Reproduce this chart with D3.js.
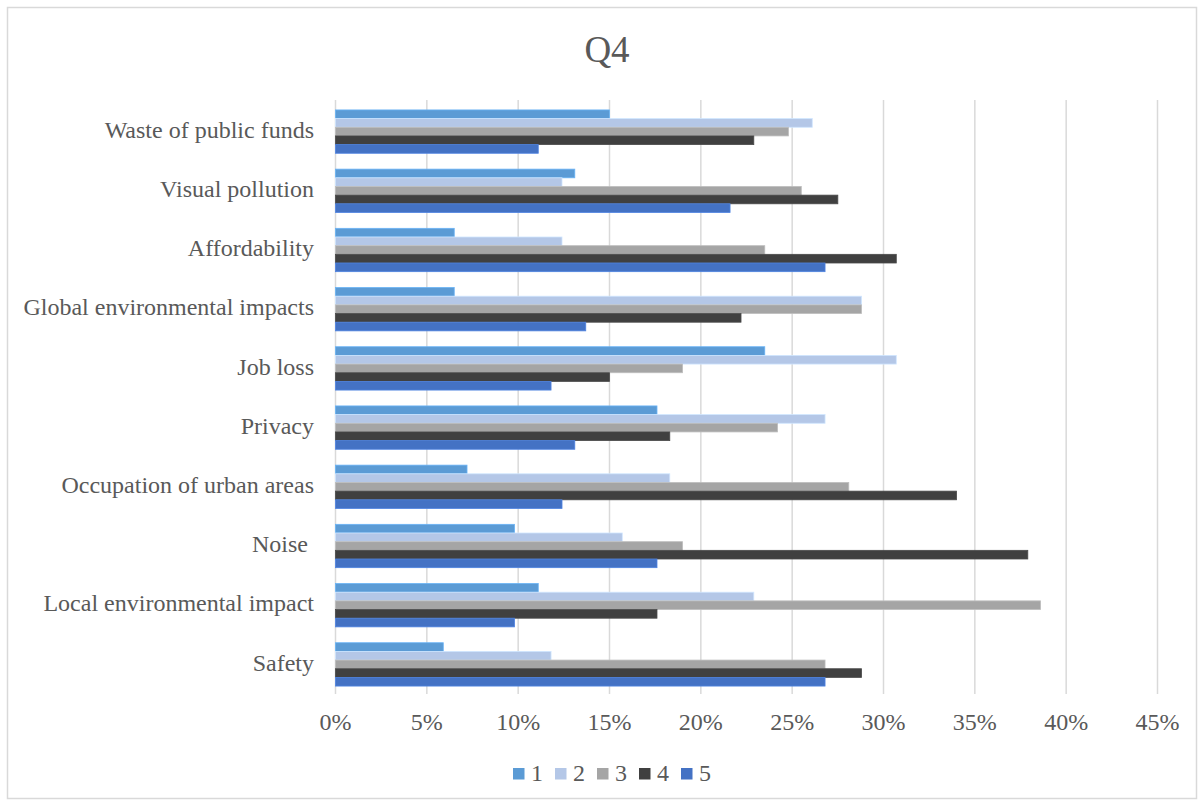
<!DOCTYPE html>
<html lang="en">
<head>
    <meta charset="UTF-8">
    <title>Q4</title>
    <style>
        body {
            margin: 0;
            background: #fff;
            font-family: "Liberation Serif", "Times New Roman", serif;
        }
        svg {
            display: block;
        }
        text {
            fill: #595959;
            white-space: pre;
        }
    </style>
</head>
<body>
    <svg id="chart" width="1204" height="806"></svg>

    <script src="https://cdn.jsdelivr.net/npm/d3@7"></script>
    <script>
        // categories, top to bottom
        const categories = [
            "Waste of public funds",
            "Visual pollution",
            "Affordability",
            "Global environmental impacts",
            "Job loss",
            "Privacy",
            "Occupation of urban areas",
            "Noise ",
            "Local environmental impact",
            "Safety"
        ];

        const seriesNames = ["1", "2", "3", "4", "5"];

        // share of answers (%) per category, one array per series
        const s1 = [15.0, 13.1,  6.5,  6.5, 23.5, 17.6,  7.2,  9.8, 11.1,  5.9];
        const s2 = [26.1, 12.4, 12.4, 28.8, 30.7, 26.8, 18.3, 15.7, 22.9, 11.8];
        const s3 = [24.8, 25.5, 23.5, 28.8, 19.0, 24.2, 28.1, 19.0, 38.6, 26.8];
        const s4 = [22.9, 27.5, 30.7, 22.2, 15.0, 18.3, 34.0, 37.9, 17.6, 28.8];
        const s5 = [11.1, 21.6, 26.8, 13.7, 11.8, 13.1, 12.4, 17.6,  9.8, 26.8];

        const xTicks = [0, 5, 10, 15, 20, 25, 30, 35, 40, 45];

        const colors = ["#5B9BD5", "#B4C7E7", "#A5A5A5", "#404040", "#4472C4"];

        const series = [s1, s2, s3, s4, s5];

        const svg = d3.select("#chart");

        // outer chart frame
        svg.append("rect")
            .attr("x", 7.5).attr("y", 7.5)
            .attr("width", 1189).attr("height", 791)
            .attr("fill", "#fff")
            .attr("stroke", "#D9D9D9")
            .attr("stroke-width", 1.5);

        const plot = { left: 335.5, right: 1157.5, top: 102, bottom: 694 };

        const x = d3.scaleLinear()
            .domain([0, 45])
            .range([plot.left, plot.right]);

        const y0 = d3.scaleBand()
            .domain(categories)
            .range([plot.top, plot.bottom])
            .paddingInner(0.268)
            .paddingOuter(0.134);

        const y1 = d3.scaleBand()
            .domain(seriesNames)
            .range([0, y0.bandwidth()]);

        // title
        svg.append("text")
            .attr("x", 607)
            .attr("y", 62)
            .attr("text-anchor", "middle")
            .style("font-size", "37px")
            .text("Q4");

        // vertical gridlines
        svg.append("g")
            .selectAll("line")
            .data(xTicks)
            .join("line")
            .attr("x1", d => x(d)).attr("x2", d => x(d))
            .attr("y1", plot.top - 2).attr("y2", plot.bottom)
            .attr("stroke", "#D9D9D9")
            .attr("stroke-width", 1.5);

        // x tick labels
        svg.append("g")
            .selectAll("text")
            .data(xTicks)
            .join("text")
            .attr("x", d => x(d))
            .attr("y", 730)
            .attr("text-anchor", "middle")
            .style("font-size", "24px")
            .text(d => d + "%");

        // category labels
        svg.append("g")
            .selectAll("text")
            .data(categories)
            .join("text")
            .attr("x", 314)
            .attr("y", d => y0(d) + y0.bandwidth() / 2)
            .attr("dy", "0.26em")
            .attr("text-anchor", "end")
            .style("font-size", "24px")
            .text(d => d);

        // bars
        const groups = svg.append("g")
            .selectAll("g")
            .data(categories)
            .join("g")
            .attr("transform", d => `translate(0,${y0(d)})`);

        groups.selectAll("rect")
            .data((d, i) => series.map((s, k) => ({ name: seriesNames[k], value: s[i], k })))
            .join("rect")
            .attr("x", x(0))
            .attr("y", d => y1(d.name))
            .attr("width", d => x(d.value) - x(0))
            .attr("height", y1.bandwidth())
            .attr("fill", d => colors[d.k])
            .attr("stroke", d => d3.color(colors[d.k]).brighter(0.4))
            .attr("stroke-width", 0.8);

        // legend
        const legend = svg.append("g")
            .selectAll("g")
            .data(seriesNames)
            .join("g")
            .attr("transform", (d, i) => `translate(${513 + i * 42},768)`);

        legend.append("rect")
            .attr("width", 11.5)
            .attr("height", 11.5)
            .attr("fill", (d, i) => colors[i]);

        legend.append("text")
            .attr("x", 18)
            .attr("y", 13)
            .style("font-size", "24px")
            .text(d => d);
    </script>
</body>
</html>
